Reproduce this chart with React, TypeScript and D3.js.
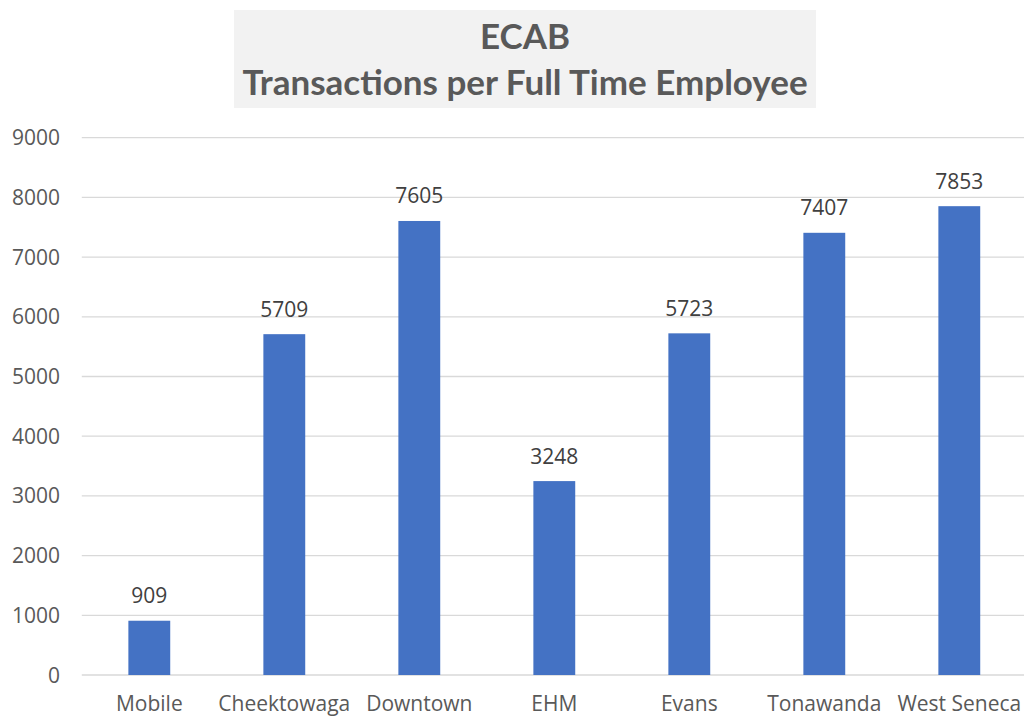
import React from "react";
import * as d3 from "d3";

const categories = ["Mobile", "Cheektowaga", "Downtown", "EHM", "Evans", "Tonawanda", "West Seneca"];
const values = [909, 5709, 7605, 3248, 5723, 7407, 7853];
const yTicks = [0, 1000, 2000, 3000, 4000, 5000, 6000, 7000, 8000, 9000];
const titleLines = ["ECAB", "Transactions per Full Time Employee"];

export default function App() {
  const W = 1024, H = 717;
  const left = 81.8, right = 1026.8, top = 137.7, bottom = 675;
  const x = d3.scaleBand<string>().domain(categories).range([left, right]).paddingInner(0.69).paddingOuter(0.345);
  const y = d3.scaleLinear().domain([0, 9000]).range([bottom, top]);
  const font = "'Open Sans', sans-serif";
  const gray = "#595959";
  return (
    <svg width={W} height={H} style={{ position: "absolute", left: 0, top: 0, background: "#fff" }}>
      <rect x={234} y={10} width={582} height={98} fill="#f2f2f2" />
      {titleLines.map((t, i) => (
        <text key={i} x={525} y={i === 0 ? 49 : 95} textAnchor="middle" fontFamily="Lato, sans-serif" fontWeight="bold" fontSize={35} fill={gray}>{t}</text>
      ))}
      {yTicks.map((t) => (
        <g key={t}>
          <line x1={left} x2={W} y1={y(t)} y2={y(t)} stroke="#d9d9d9" strokeWidth={1.3} />
          <text x={60} y={y(t) + 7.5} textAnchor="end" fontFamily={font} fontSize={21} fill={gray}>{t}</text>
        </g>
      ))}
      {categories.map((c, i) => (
        <g key={c}>
          <rect x={x(c)!} y={y(values[i])} width={x.bandwidth()} height={bottom - y(values[i])} fill="#4472c4" />
          <text x={x(c)! + x.bandwidth() / 2} y={y(values[i]) - 17.5} textAnchor="middle" fontFamily={font} fontSize={21} fill="#404040">{values[i]}</text>
          <text x={x(c)! + x.bandwidth() / 2} y={711} textAnchor="middle" fontFamily={font} fontSize={21} fill={gray}>{c}</text>
        </g>
      ))}
    </svg>
  );
}
